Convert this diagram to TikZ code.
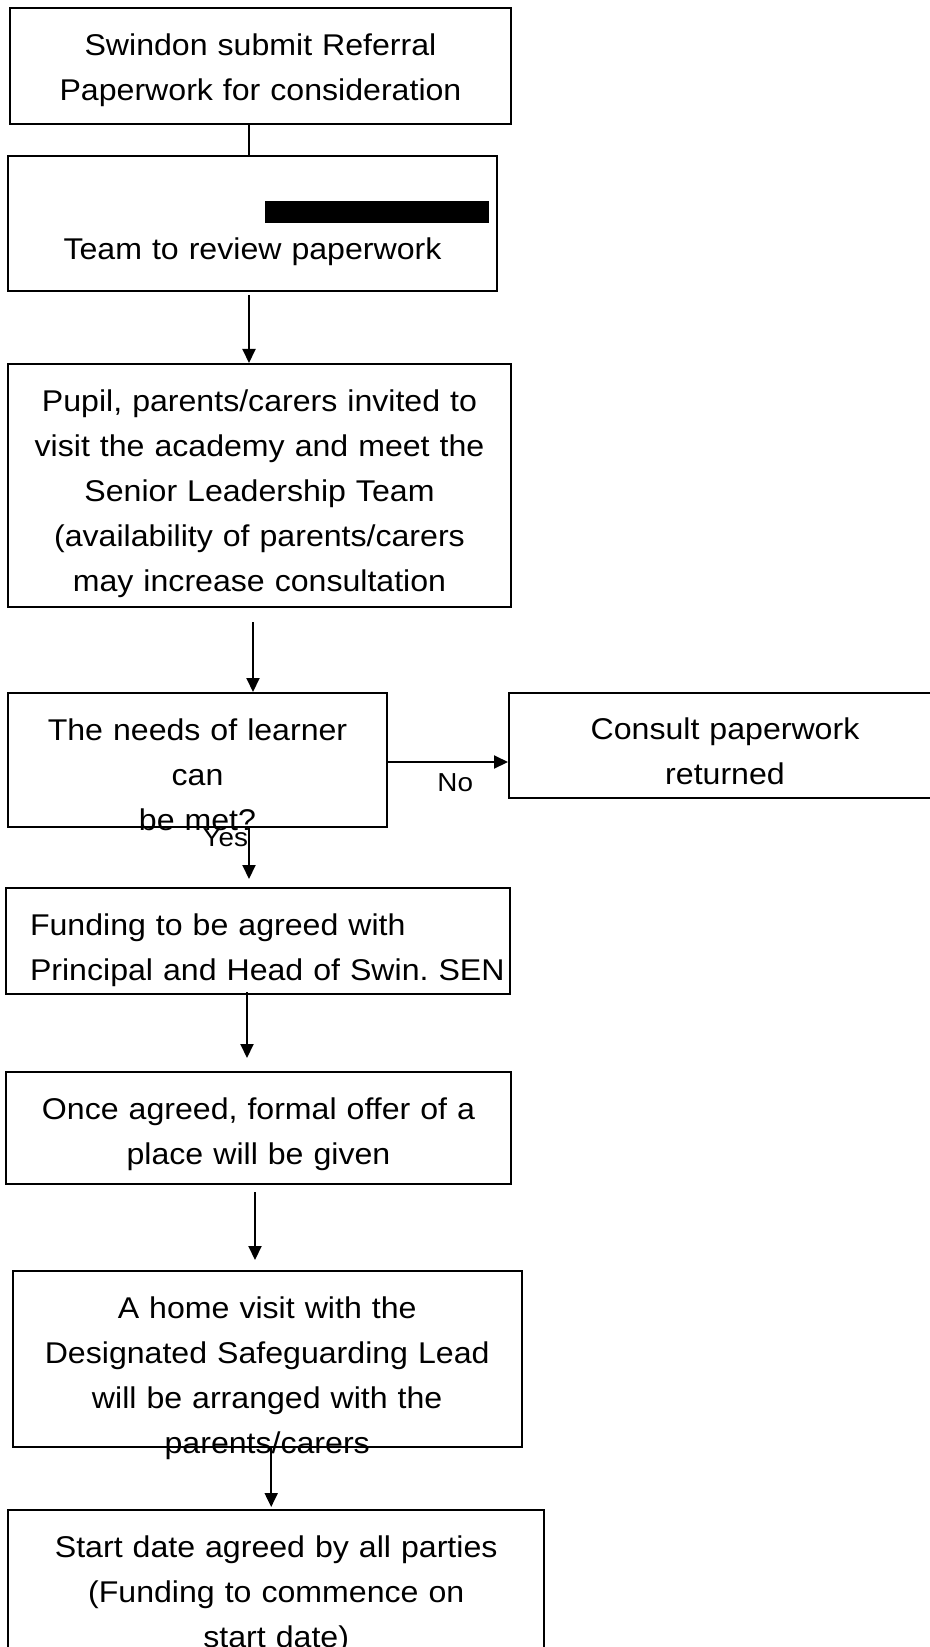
\documentclass[tikz,border=0pt]{standalone}
\usepackage{fontspec}
\setmainfont{Liberation Sans}[FakeStretch=1.07]
\usetikzlibrary{arrows.meta}
\tikzstyle{stepbox} = [rectangle, draw = black, line width = 1pt, inner sep = 0pt, text height = 23.7pt, align = center]
\tikzstyle{joinline} = [line width = 1pt]
\tikzstyle{arrow} = [line width = 1pt,->,>={Triangle[length=7pt,width=6.5pt]}]
\tikzstyle{answer} = [font = \fontsize{13}{15}\selectfont]
\frenchspacing

\begin{document}
\begin{tikzpicture}[x = 0.5pt, y = 0.5pt, font = \fontsize{15}{22.5}\selectfont]
\useasboundingbox (0,0) rectangle (930,-1647);

\node(submit) [stepbox, text width = 250.5pt, text depth = 34.3pt] at (260.5,-66) {Swindon submit Referral\\ Paperwork for consideration};
\node(review) [stepbox, text width = 244.5pt, text height = 51.6pt, text depth = 15.9pt] at (252.5,-223.5) {Team to review paperwork};
\node(visit) [stepbox, text width = 251.5pt, text depth = 97.8pt] at (259.5,-485.5) {Pupil, parents/carers invited to\\ visit the academy and meet the\\ Senior Leadership Team\\ (availability of parents/carers\\ may increase consultation};
\node(needs) [stepbox, text width = 189.5pt, text depth = 43.3pt] at (197.5,-760) {The needs of learner\\ can\\ be met?};
\node(returned) [stepbox, text width = 216pt, text depth = 28.8pt] at (725,-745) {Consult paperwork\\ returned};
\node(funding) [stepbox, align = left, inner xsep = 12pt, text width = 228pt, text depth = 29.3pt] at (258,-941) {Funding to be agreed with\\ \mbox{Principal and Head of Swin. SEN}};
\node(offer) [stepbox, text width = 252.5pt, text depth = 32.3pt] at (258.5,-1128) {Once agreed, formal offer of a\\ place will be given};
\node(home) [stepbox, text width = 254.7pt, text depth = 64.3pt] at (267.2,-1359) {A home visit with the\\ Designated Safeguarding Lead\\ will be arranged with the\\ parents/carers};
\node(start) [stepbox, text width = 267.8pt, text depth = 71.3pt] at (276.2,-1605) {Start date agreed by all parties\\ (Funding to commence on\\ start date)};

\fill (265,-201) rectangle (489,-223);

\draw [joinline] ([xshift = -5.75pt]submit.south) -- ([xshift = -5.75pt]submit.south |- review.north);
\draw [arrow, shorten <= 1.5pt] ([xshift = -1.75pt]review.south) -- ([xshift = -1.75pt]review.south |- visit.north);
\draw [arrow, shorten <= 7pt] ([xshift = -3.25pt]visit.south) -- ([xshift = -3.25pt]visit.south |- needs.north);
\draw [arrow] ([yshift = -1pt]needs.east) -- node[answer, pos = 0.56, below = 2pt]{No} ([yshift = -1pt]needs.east -| returned.west);
\draw [arrow, shorten >= 4pt] ([xshift = 25.75pt]needs.south) node[answer, anchor = north east, inner sep = 0pt]{Yes} -- ([xshift = 25.75pt]needs.south |- funding.north);
\draw [arrow, shorten <= -1.5pt, shorten >= 6.5pt] ([xshift = -5.5pt]funding.south) -- ([xshift = -5.5pt]funding.south |- offer.north);
\draw [arrow, shorten <= 3.5pt, shorten >= 5pt] ([xshift = -1.75pt]offer.south) -- ([xshift = -1.75pt]offer.south |- home.north);
\draw [arrow, shorten >= 1pt] ([xshift = 2pt]home.south) -- ([xshift = 2pt]home.south |- start.north);

\end{tikzpicture}
\end{document}
